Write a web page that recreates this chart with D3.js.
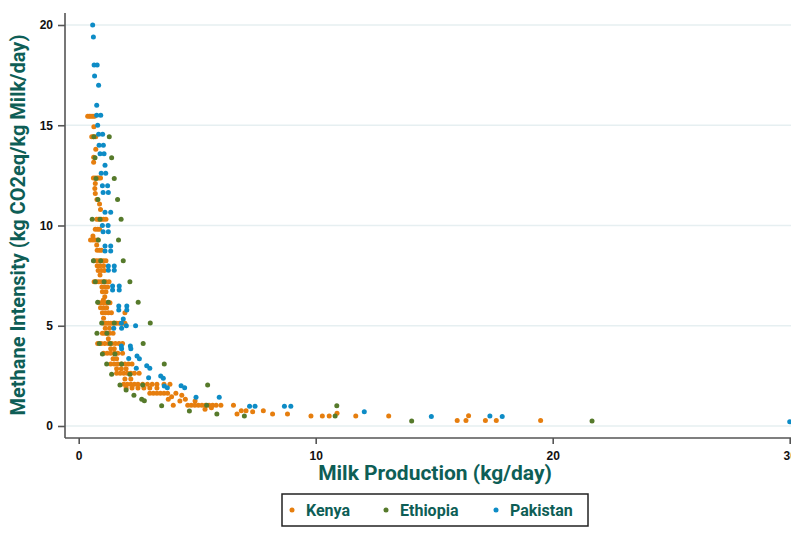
<!DOCTYPE html>
<html>
<head>
<meta charset="utf-8">
<script src="https://cdn.jsdelivr.net/npm/d3@7"></script>
<style>
  body { margin: 0; background: #fff; }
  svg { display: block; }
</style>
</head>
<body>
<div id="chart"></div>
<script>
// countries and colours in legend order
const countries = ["Kenya", "Ethiopia", "Pakistan"];
const colors = ["#e67e0e", "#567a2b", "#0d8cc6"];

const xTicks = [0, 10, 20, 30];
const yTicks = [0, 5, 10, 15, 20];

// [milk kg/day, methane intensity]
const kenya = [
  [0.38,15.45],[0.45,15.45],[0.52,15.45],[0.6,15.45],[0.67,15.45],
  [0.64,14.93],[0.55,14.43],[0.62,14.43],[0.72,14.43],[0.72,13.8],
  [0.63,13.4],[0.63,13.15],
  [0.62,12.37],[0.7,12.37],[0.78,12.37],[0.85,12.37],[0.92,12.37],
  [0.7,12.1],[0.68,11.85],[0.7,11.6],[0.77,11.3],[0.88,11.07],[0.92,10.8],
  [0.76,10.31],[0.84,10.31],[0.95,10.31],[1.05,10.31],[1.15,10.31],
  [0.7,9.81],[0.8,9.81],[0.88,9.81],[0.6,9.48],
  [0.5,9.28],[0.6,9.28],[0.7,9.28],[0.8,9.28],[0.76,9.03],
  [0.78,8.76],[0.88,8.76],[0.96,8.76],
  [0.65,8.24],[0.75,8.24],[0.85,8.24],[0.95,8.24],[1.05,8.24],[1.15,8.24],
  [0.78,7.99],[0.9,7.99],[1.05,7.99],[0.82,7.75],[0.95,7.75],[1.08,7.75],[0.9,7.53],
  [0.65,7.2],[0.75,7.2],[0.85,7.2],[0.95,7.2],[1.05,7.2],[1.15,7.2],[1.28,7.2],
  [0.98,6.93],[1.1,6.93],[1.22,6.93],[1.0,6.7],[1.15,6.7],[1.1,6.45],[1.04,6.28],
  [0.85,6.15],[0.95,6.15],[1.05,6.15],[1.15,6.15],[1.25,6.15],[1.32,6.15],
  [0.92,5.9],[1.05,5.9],[1.18,5.9],
  [1.0,5.65],[1.12,5.65],[1.25,5.65],[1.38,5.65],[1.95,5.65],[1.05,5.38],
  [1.05,5.12],[1.15,5.12],[1.25,5.12],[1.35,5.12],[1.45,5.12],[1.6,5.12],[1.72,5.12],[1.85,5.12],[1.95,5.12],
  [1.12,4.87],[1.3,4.87],
  [1.0,4.62],[1.1,4.62],[1.2,4.62],[1.3,4.62],[1.45,4.62],[1.25,4.35],
  [0.8,4.12],[0.95,4.12],[1.1,4.12],[1.25,4.12],[1.4,4.12],[1.55,4.12],[1.7,4.12],[1.85,4.12],
  [1.35,3.85],[1.5,3.85],
  [1.05,3.63],[1.2,3.63],[1.35,3.63],[1.5,3.63],[1.65,3.63],[1.85,3.63],
  [1.45,3.35],[1.6,3.35],
  [1.35,3.09],[1.5,3.09],[1.65,3.09],[1.8,3.09],[1.95,3.09],[2.1,3.09],[2.25,3.09],
  [1.6,2.85],[1.8,2.85],[2.0,2.85],
  [1.6,2.63],[1.75,2.63],[1.9,2.63],[2.05,2.63],[2.2,2.63],[2.35,2.63],[2.55,2.63],
  [1.95,2.35],[2.2,2.35],
  [1.9,2.08],[2.05,2.08],[2.2,2.08],[2.35,2.08],[2.5,2.08],[2.7,2.08],[2.9,2.08],[3.1,2.08],[3.3,2.08],[3.6,2.08],[3.85,2.08],
  [2.0,1.9],[2.25,1.9],[2.5,1.9],[2.75,1.9],[3.0,1.9],[3.3,1.9],
  [3.0,1.63],[3.15,1.63],[3.3,1.63],[3.45,1.63],[3.6,1.63],[3.75,1.63],[4.1,1.63],
  [4.35,1.53],[3.92,1.46],[3.78,1.33],[4.5,1.33],[4.27,1.25],[4.91,1.25],
  [3.99,1.03],[4.6,1.03],[4.75,1.03],[4.9,1.03],[5.05,1.03],[5.2,1.03],[5.35,1.03],[5.5,1.03],[5.65,1.03],[5.8,1.03],[6.0,1.03],[6.53,1.03],
  [5.6,0.91],[5.33,0.83],[6.86,0.76],[7.06,0.76],[7.79,0.76],[7.34,0.71],
  [6.68,0.6],[8.18,0.6],[8.81,0.6],
  [9.8,0.5],[10.28,0.5],[10.57,0.5],[11.69,0.5],[13.08,0.5],[10.9,0.63],
  [16.45,0.51],[15.97,0.28],[16.34,0.28],[17.16,0.28],[17.62,0.28],[19.49,0.28]
];

const ethiopia = [
  [0.64,14.43],[1.29,14.43],[0.69,13.38],[1.39,13.38],[0.73,12.35],[1.5,12.35],
  [0.81,11.3],[1.64,11.3],[0.57,10.31],[0.9,10.31],[1.79,10.31],
  [0.83,9.28],[1.68,9.28],[0.62,8.24],[0.93,8.24],[1.88,8.24],
  [0.7,7.2],[1.07,7.2],[2.16,7.2],[0.8,6.17],[1.25,6.17],[2.51,6.17],
  [0.97,5.14],[1.5,5.14],[3.02,5.14],[0.77,4.62],[1.19,4.62],
  [0.87,4.12],[1.33,4.12],[2.72,4.12],[1.0,3.59],[1.53,3.59],
  [1.18,3.09],[1.81,3.09],[3.61,3.09],[1.39,2.58],[2.16,2.58],
  [1.74,2.05],[2.7,2.05],[5.44,2.05],[2.0,1.8],[2.33,1.53],
  [2.66,1.33],[2.77,1.26],[3.5,1.01],[10.89,1.01],[5.4,1.03],
  [4.67,0.75],[5.83,0.6],[6.99,0.5],[10.82,0.5],[14.05,0.25],[21.66,0.25]
];

const pakistan = [
  [0.59,20.0],[0.62,19.4],[0.65,18.0],[0.78,18.0],[0.67,17.46],[0.84,16.99],
  [0.76,16.0],[0.76,15.5],[0.93,15.5],[0.8,15.0],[0.84,14.55],[1.01,14.55],
  [0.86,14.0],[1.04,14.0],[0.9,13.58],[1.07,13.58],[1.11,13.0],[0.95,12.6],[1.14,12.6],
  [1.0,11.98],[1.22,11.98],[1.03,11.64],[1.25,11.64],[1.11,10.66],[1.35,10.66],
  [1.0,10.0],[1.24,10.0],[1.03,9.69],[1.25,9.69],[1.11,8.98],[1.35,8.98],
  [1.11,8.73],[1.35,8.73],[1.25,7.98],[1.5,7.98],[1.25,7.77],[1.5,7.77],
  [1.43,6.98],[1.71,6.98],[1.43,6.78],[1.71,6.78],[1.69,5.99],[2.03,5.99],
  [1.69,5.79],[2.03,5.79],[1.88,5.34],[1.8,5.12],[2.01,5.0],[2.4,5.0],
  [1.48,4.87],[1.81,4.87],[1.8,3.99],[2.18,3.99],[1.81,3.85],[2.2,3.85],
  [2.11,3.37],[2.46,3.49],[2.56,3.36],[2.87,3.0],[3.0,2.88],[2.43,2.88],
  [2.95,2.41],[3.46,2.49],[3.57,2.38],[3.61,1.99],[3.74,1.91],[4.32,2.01],[4.47,1.91],
  [4.95,1.43],[5.93,1.43],[7.21,0.98],[7.44,0.98],[8.68,0.98],[8.95,0.98],
  [12.05,0.71],[14.88,0.48],[17.35,0.5],[17.87,0.48],[30.0,0.21]
];

const series = [kenya, ethiopia, pakistan];

const W = 791, H = 539;
const svg = d3.select("#chart").append("svg")
  .attr("width", W).attr("height", H);

const plotLeft = 65, plotBottom = 438, plotTop = 13;
const x = d3.scaleLinear().domain([0, 30]).range([78.7, 789.7]);
const y = d3.scaleLinear().domain([0, 20]).range([426, 25]);

const teal = "#0e5e56";

// gridlines
svg.append("g").selectAll("line")
  .data(yTicks)
  .enter().append("line")
  .attr("x1", plotLeft).attr("x2", W)
  .attr("y1", d => y(d)).attr("y2", d => y(d))
  .attr("stroke", "#e6eff1").attr("stroke-width", 1.5);

// points
series.forEach((pts, i) => {
  svg.append("g").selectAll("circle")
    .data(pts)
    .enter().append("circle")
    .attr("cx", d => x(d[0]))
    .attr("cy", d => y(d[1]))
    .attr("r", 2.5)
    .attr("fill", colors[i]);
});

// y axis
const yAxis = svg.append("g")
  .attr("transform", `translate(${plotLeft},0)`)
  .call(d3.axisLeft(y).tickValues(yTicks).tickSize(7).tickPadding(5));
yAxis.select(".domain").attr("d", `M0,${plotTop}V${plotBottom}`);

// x axis
const xAxis = svg.append("g")
  .attr("transform", `translate(0,${plotBottom})`)
  .call(d3.axisBottom(x).tickValues(xTicks).tickSize(6).tickPadding(7));
xAxis.select(".domain").attr("d", `M${plotLeft},0H${W}`);

svg.selectAll(".domain").attr("stroke", "#555").attr("stroke-width", 1.6);
svg.selectAll(".tick line").attr("stroke", "#555").attr("stroke-width", 1.6);
svg.selectAll(".tick text")
  .attr("fill", "#111")
  .style("font-family", "'Liberation Sans', Arial, sans-serif")
  .style("font-weight", "bold")
  .style("font-size", "12px");

// axis titles
svg.append("text")
  .attr("x", 435).attr("y", 480)
  .attr("text-anchor", "middle")
  .attr("fill", teal)
  .style("font-family", "Roboto, sans-serif")
  .style("font-weight", "bold")
  .style("font-size", "21px")
  .text("Milk Production (kg/day)");

svg.append("text")
  .attr("transform", "translate(25,225) rotate(-90)")
  .attr("text-anchor", "middle")
  .attr("fill", teal)
  .style("font-family", "Roboto, sans-serif")
  .style("font-weight", "bold")
  .style("font-size", "20px")
  .text("Methane Intensity (kg CO2eq/kg Milk/day)");

// legend
const legend = svg.append("g");
legend.append("rect")
  .attr("x", 282).attr("y", 494)
  .attr("width", 306).attr("height", 32)
  .attr("fill", "#fff").attr("stroke", "#222").attr("stroke-width", 1.5);

const legendX = [292, 386, 496];
countries.forEach((c, i) => {
  legend.append("circle")
    .attr("cx", legendX[i]).attr("cy", 510)
    .attr("r", 2.5).attr("fill", colors[i]);
  legend.append("text")
    .attr("x", legendX[i] + 14).attr("y", 516)
    .attr("fill", teal)
    .style("font-family", "Roboto, sans-serif")
    .style("font-weight", "bold")
    .style("font-size", "16px")
    .text(c);
});
</script>
</body>
</html>
